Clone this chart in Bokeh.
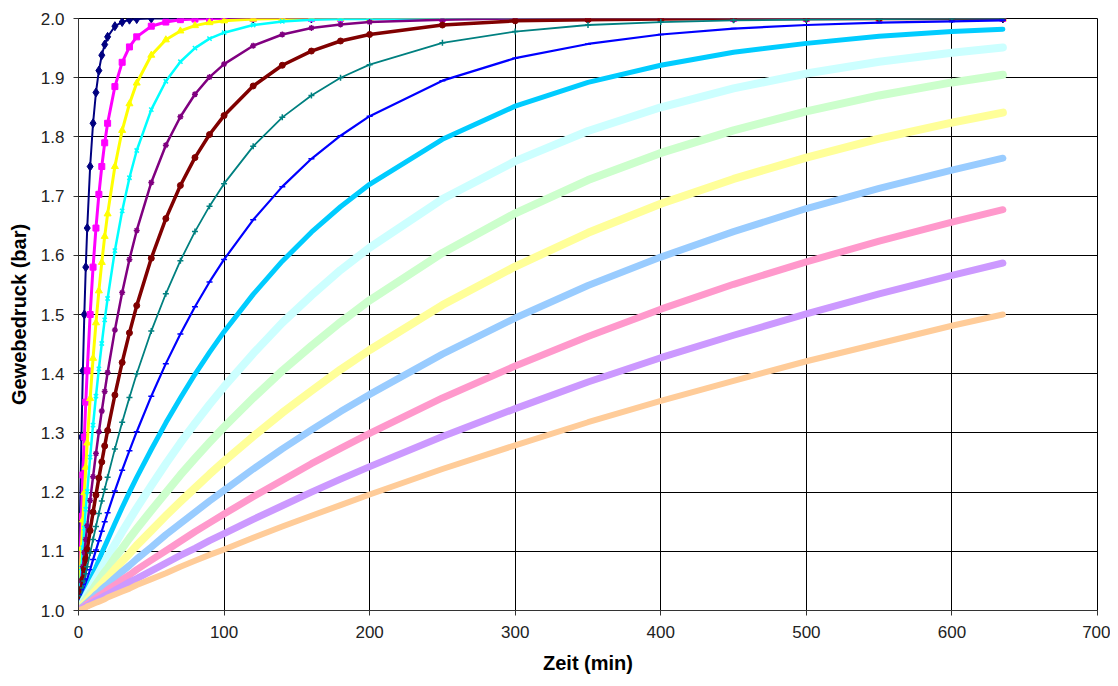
from bokeh.plotting import figure
from bokeh.models import Range1d, FixedTicker, NumeralTickFormatter
from bokeh.embed import file_html
from bokeh.resources import INLINE

# time axis (minutes)
time_min = [0, 1, 2, 3, 4, 5, 6, 8, 10, 12, 14, 16, 18, 20, 25, 30, 35, 40,
            50, 60, 70, 80, 90, 100, 120, 140, 160, 180, 200,
            250, 300, 350, 400, 450, 500, 550, 600, 635]

# tissue pressure (bar) per compartment
s01 = [1.000, 1.159, 1.293, 1.405, 1.500, 1.580, 1.646, 1.750, 1.823, 1.875, 1.912, 1.938, 1.956, 1.969, 1.987, 1.994, 1.998, 1.999,
       2.000, 2.000, 2.000, 2.000, 2.000, 2.000, 2.000, 2.000, 2.000, 2.000, 2.000,
       2.000, 2.000, 2.000, 2.000, 2.000, 2.000, 2.000, 2.000, 2.000]
s02 = [1.000, 1.083, 1.159, 1.229, 1.293, 1.352, 1.405, 1.500, 1.580, 1.646, 1.703, 1.750, 1.790, 1.823, 1.885, 1.926, 1.952, 1.969,
       1.987, 1.994, 1.998, 1.999, 2.000, 2.000, 2.000, 2.000, 2.000, 2.000, 2.000,
       2.000, 2.000, 2.000, 2.000, 2.000, 2.000, 2.000, 2.000, 2.000]
s03 = [1.000, 1.054, 1.105, 1.153, 1.199, 1.242, 1.283, 1.358, 1.426, 1.486, 1.540, 1.588, 1.632, 1.670, 1.750, 1.811, 1.856, 1.891,
       1.938, 1.964, 1.979, 1.988, 1.993, 1.996, 1.999, 2.000, 2.000, 2.000, 2.000,
       2.000, 2.000, 2.000, 2.000, 2.000, 2.000, 2.000, 2.000, 2.000]
s04 = [1.000, 1.037, 1.072, 1.106, 1.139, 1.171, 1.201, 1.259, 1.313, 1.362, 1.408, 1.451, 1.491, 1.527, 1.608, 1.675, 1.731, 1.777,
       1.846, 1.894, 1.927, 1.950, 1.966, 1.976, 1.989, 1.995, 1.998, 1.999, 1.999,
       2.000, 2.000, 2.000, 2.000, 2.000, 2.000, 2.000, 2.000, 2.000]
s05 = [1.000, 1.025, 1.050, 1.074, 1.098, 1.120, 1.143, 1.186, 1.226, 1.265, 1.302, 1.337, 1.370, 1.402, 1.474, 1.537, 1.593, 1.642,
       1.723, 1.786, 1.834, 1.872, 1.901, 1.923, 1.954, 1.973, 1.984, 1.990, 1.994,
       1.998, 2.000, 2.000, 2.000, 2.000, 2.000, 2.000, 2.000, 2.000]
s06 = [1.000, 1.018, 1.036, 1.053, 1.070, 1.087, 1.103, 1.135, 1.166, 1.195, 1.224, 1.251, 1.278, 1.304, 1.364, 1.419, 1.469, 1.515,
       1.595, 1.662, 1.718, 1.765, 1.804, 1.836, 1.886, 1.921, 1.945, 1.962, 1.973,
       1.989, 1.996, 1.998, 1.999, 2.000, 2.000, 2.000, 2.000, 2.000]
s07 = [1.000, 1.013, 1.025, 1.038, 1.050, 1.062, 1.074, 1.097, 1.120, 1.142, 1.164, 1.185, 1.205, 1.225, 1.273, 1.318, 1.360, 1.400,
       1.472, 1.535, 1.591, 1.640, 1.683, 1.721, 1.784, 1.833, 1.870, 1.900, 1.922,
       1.959, 1.978, 1.989, 1.994, 1.997, 1.998, 1.999, 2.000, 2.000]
s08 = [1.000, 1.009, 1.018, 1.027, 1.035, 1.044, 1.053, 1.069, 1.086, 1.102, 1.118, 1.134, 1.150, 1.165, 1.202, 1.237, 1.270, 1.302,
       1.362, 1.417, 1.467, 1.513, 1.555, 1.593, 1.660, 1.716, 1.763, 1.802, 1.835,
       1.895, 1.933, 1.957, 1.973, 1.983, 1.989, 1.993, 1.995, 1.997]
s09 = [1.000, 1.006, 1.013, 1.019, 1.025, 1.031, 1.037, 1.050, 1.062, 1.073, 1.085, 1.097, 1.108, 1.119, 1.147, 1.174, 1.200, 1.225,
       1.272, 1.317, 1.359, 1.399, 1.436, 1.471, 1.534, 1.590, 1.639, 1.682, 1.720,
       1.796, 1.852, 1.892, 1.921, 1.943, 1.958, 1.970, 1.978, 1.982]
s10 = [1.000, 1.005, 1.009, 1.014, 1.019, 1.023, 1.028, 1.037, 1.046, 1.055, 1.064, 1.073, 1.082, 1.091, 1.112, 1.133, 1.153, 1.173,
       1.211, 1.248, 1.283, 1.316, 1.348, 1.378, 1.434, 1.486, 1.532, 1.575, 1.613,
       1.695, 1.759, 1.810, 1.850, 1.882, 1.907, 1.927, 1.942, 1.951]
s11 = [1.000, 1.004, 1.007, 1.011, 1.015, 1.018, 1.022, 1.029, 1.036, 1.044, 1.051, 1.058, 1.065, 1.071, 1.089, 1.105, 1.122, 1.138,
       1.169, 1.199, 1.229, 1.257, 1.284, 1.310, 1.359, 1.405, 1.447, 1.487, 1.524,
       1.604, 1.671, 1.727, 1.773, 1.811, 1.843, 1.870, 1.892, 1.905]
s12 = [1.000, 1.003, 1.006, 1.009, 1.012, 1.014, 1.017, 1.023, 1.029, 1.034, 1.040, 1.045, 1.051, 1.056, 1.070, 1.083, 1.096, 1.110,
       1.135, 1.160, 1.184, 1.207, 1.230, 1.252, 1.294, 1.334, 1.371, 1.407, 1.440,
       1.516, 1.581, 1.638, 1.687, 1.729, 1.765, 1.797, 1.824, 1.841]
s13 = [1.000, 1.002, 1.005, 1.007, 1.009, 1.011, 1.013, 1.018, 1.022, 1.027, 1.031, 1.036, 1.040, 1.044, 1.055, 1.066, 1.076, 1.087,
       1.107, 1.128, 1.147, 1.166, 1.185, 1.203, 1.239, 1.273, 1.305, 1.336, 1.365,
       1.433, 1.494, 1.549, 1.597, 1.640, 1.679, 1.713, 1.744, 1.764]
s14 = [1.000, 1.002, 1.004, 1.005, 1.007, 1.009, 1.011, 1.014, 1.018, 1.021, 1.025, 1.028, 1.031, 1.035, 1.043, 1.052, 1.060, 1.069,
       1.085, 1.101, 1.117, 1.133, 1.148, 1.163, 1.192, 1.220, 1.248, 1.274, 1.299,
       1.359, 1.413, 1.463, 1.509, 1.551, 1.589, 1.624, 1.656, 1.677]
s15 = [1.000, 1.001, 1.003, 1.004, 1.006, 1.007, 1.008, 1.011, 1.014, 1.017, 1.019, 1.022, 1.025, 1.027, 1.034, 1.041, 1.048, 1.054,
       1.067, 1.080, 1.093, 1.105, 1.118, 1.130, 1.154, 1.177, 1.200, 1.222, 1.243,
       1.294, 1.341, 1.386, 1.427, 1.465, 1.501, 1.535, 1.566, 1.587]
s16 = [1.000, 1.001, 1.002, 1.003, 1.004, 1.005, 1.007, 1.009, 1.011, 1.013, 1.015, 1.017, 1.019, 1.022, 1.027, 1.032, 1.037, 1.043,
       1.053, 1.063, 1.074, 1.084, 1.094, 1.103, 1.123, 1.142, 1.160, 1.178, 1.196,
       1.239, 1.279, 1.318, 1.354, 1.388, 1.421, 1.451, 1.481, 1.500]

series = [s01, s02, s03, s04, s05, s06, s07, s08, s09, s10, s11, s12, s13, s14, s15, s16]

x_ticks = [0, 100, 200, 300, 400, 500, 600, 700]
y_ticks = [1.0, 1.1, 1.2, 1.3, 1.4, 1.5, 1.6, 1.7, 1.8, 1.9, 2.0]

# styles
colors = ["#000080", "#FF00FF", "#FFFF00", "#00FFFF", "#800080", "#800000", "#008080", "#0000FF",
          "#00CCFF", "#CCFFFF", "#CCFFCC", "#FFFF99", "#99CCFF", "#FF99CC", "#CC99FF", "#FFCC99"]
markers = ["diamond", "square", "triangle", "x", "asterisk", "circle", "cross", "dash",
           None, None, None, None, None, None, None, None]
marker_sizes = [9, 6, 7, 6, 6, 6, 6, 6, 0, 0, 0, 0, 0, 0, 0, 0]
line_widths = [2, 3, 3, 2.5, 2.5, 3.5, 1.8, 2.2, 5, 8, 8, 8, 7, 7, 7, 6]

FONT = "Liberation Sans"

p = figure(width=1110, height=678, output_backend="svg", toolbar_location=None,
           x_range=Range1d(0, 700), y_range=Range1d(1.0, 2.0),
           min_border_left=78, min_border_right=13, min_border_top=18, min_border_bottom=68)
p.background_fill_color = "white"
p.border_fill_color = "white"
p.outline_line_color = "#000000"
p.outline_line_width = 1

for i, ys in enumerate(series):
    p.line(time_min, ys, line_color=colors[i], line_width=line_widths[i], line_join="round", line_cap="round")
    if markers[i] is not None:
        lw = 1.5 if markers[i] in ("x", "asterisk", "cross", "dash") else 1
        p.scatter(time_min, ys, marker=markers[i], size=marker_sizes[i],
                  fill_color=colors[i], line_color=colors[i], line_width=lw)

p.xaxis.ticker = FixedTicker(ticks=x_ticks)
p.yaxis.ticker = FixedTicker(ticks=y_ticks)
p.yaxis.formatter = NumeralTickFormatter(format="0.0")
p.xaxis.axis_label = "Zeit (min)"
p.yaxis.axis_label = "Gewebedruck (bar)"

for ax in (p.xaxis, p.yaxis):
    ax.axis_label_text_font = FONT
    ax.axis_label_text_font_style = "bold"
    ax.axis_label_text_font_size = "20px"
    ax.axis_label_text_color = "#000000"
    ax.major_label_text_font = FONT
    ax.major_label_text_font_size = "17px"
    ax.major_label_text_color = "#222222"
    ax.axis_line_color = "#333333"
    ax.major_tick_line_color = "#333333"
    ax.major_tick_out = 5
    ax.major_tick_in = 0
    ax.minor_tick_out = 0
    ax.minor_tick_in = 0

p.xaxis.major_label_standoff = 10
p.xaxis.axis_label_standoff = 11
p.yaxis.major_label_standoff = 9
p.yaxis.axis_label_standoff = 8

p.xgrid.grid_line_color = "#000000"
p.ygrid.grid_line_color = "#000000"
p.xgrid.grid_line_width = 1
p.ygrid.grid_line_width = 1

open("out.html", "w").write(file_html(p, INLINE))
